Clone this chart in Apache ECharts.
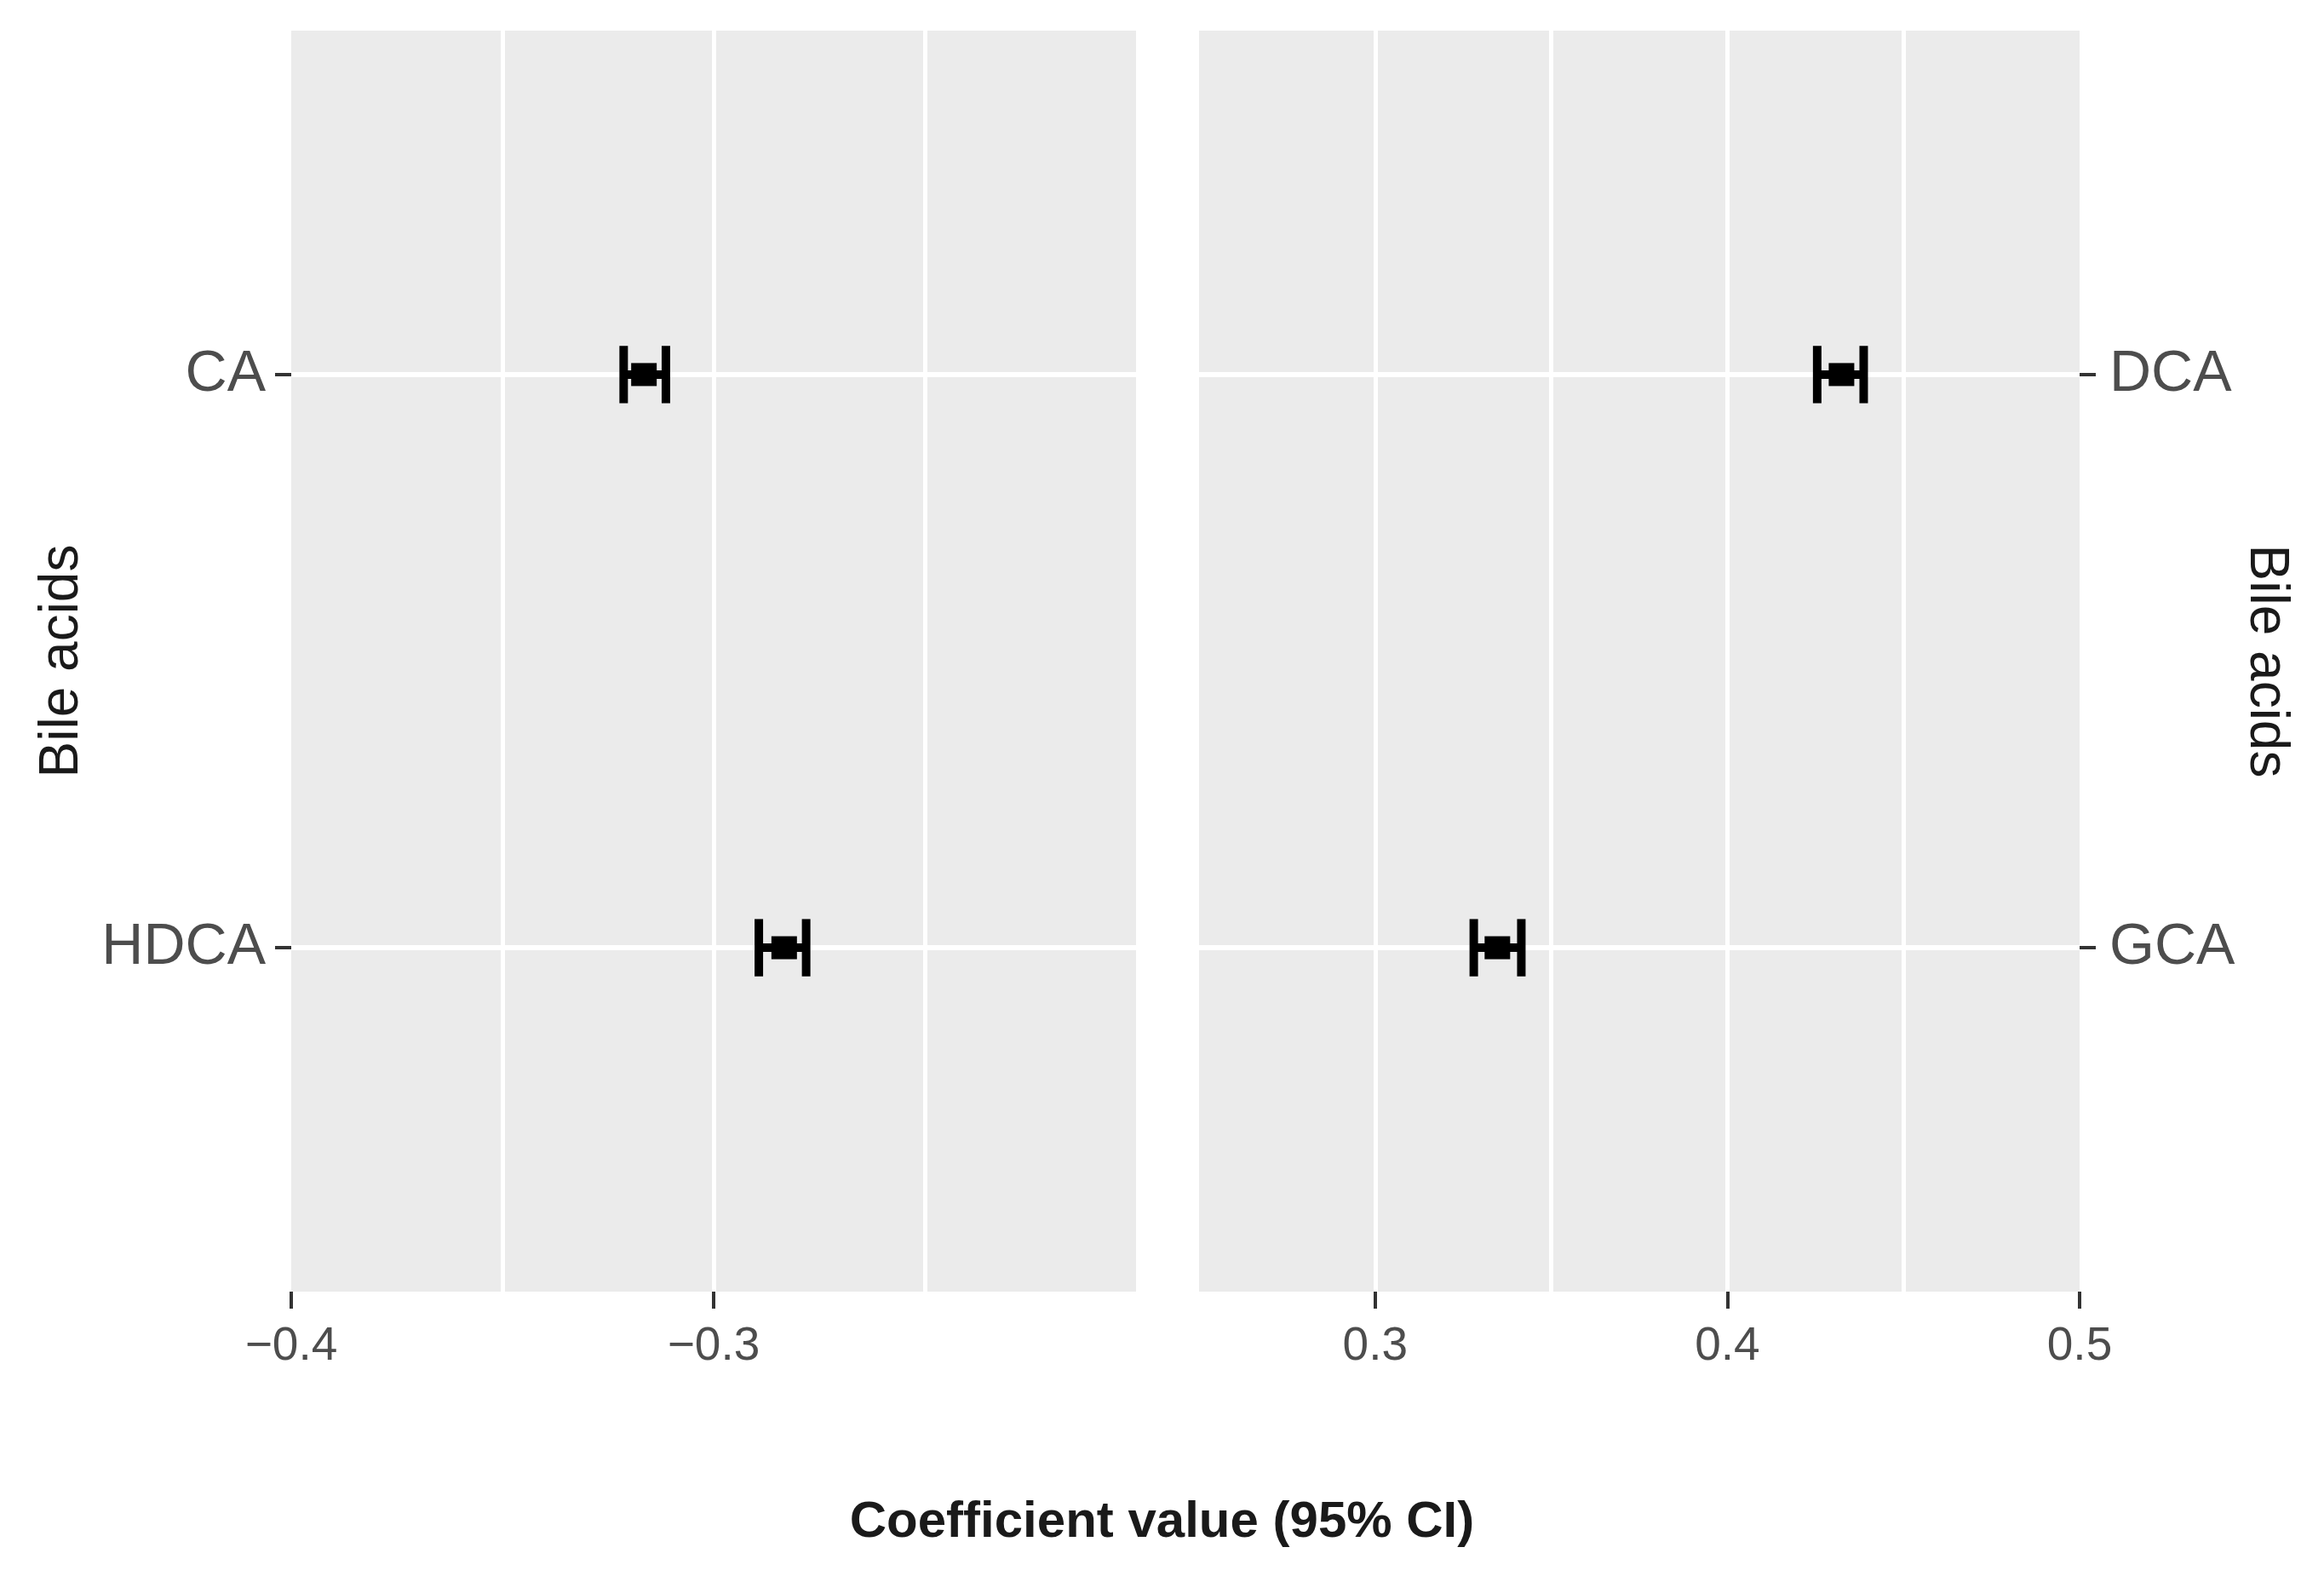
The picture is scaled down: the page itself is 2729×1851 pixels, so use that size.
<!DOCTYPE html>
<html>
<head>
<meta charset="utf-8">
<script src="https://cdn.jsdelivr.net/npm/echarts@6/dist/echarts.min.js"></script>
<style>
html,body{margin:0;padding:0;background:#fff;}
#chart{width:2729px;height:1851px;}
</style>
</head>
<body>
<div id="chart"></div>
<script>
// ---- Data ----
const leftCategories = ['HDCA', 'CA'];
const leftEstimate = [-0.2833, -0.3165];
const leftLower = [-0.2893, -0.3213];
const leftUpper = [-0.2781, -0.3113];

const rightCategories = ['GCA', 'DCA'];
const rightEstimate = [0.3347, 0.4324];
const rightLower = [0.3280, 0.4255];
const rightUpper = [0.3415, 0.4387];

const leftTicks = [-0.4, -0.3];
const rightTicks = [0.3, 0.4, 0.5];
const yAxisTitle = 'Bile acids';
const xAxisTitle = 'Coefficient value (95% CI)';

// ---- Build ----
const FONT = 'Liberation Sans, Arial, sans-serif';
const catPos = [1, 2];
const capHalf = 0.05;

function fmt(v) {
  return (v < 0 ? '\u2212' : '') + Math.abs(v).toFixed(1);
}

function errSeries(gridIdx, lo, hi) {
  return {
    type: 'custom',
    xAxisIndex: gridIdx * 2 + 1,
    yAxisIndex: gridIdx,
    z: 5,
    encode: { x: [1, 2], y: 0 },
    data: catPos.map((p, i) => [p, lo[i], hi[i]]),
    renderItem: function (params, api) {
      const y = api.value(0);
      const a = api.coord([api.value(1), y]);
      const b = api.coord([api.value(2), y]);
      const t = api.coord([api.value(1), y + capHalf])[1];
      const d = api.coord([api.value(1), y - capHalf])[1];
      const st = { stroke: '#000', lineWidth: 10 };
      return {
        type: 'group',
        children: [
          { type: 'line', shape: { x1: a[0], y1: a[1], x2: b[0], y2: b[1] }, style: st },
          { type: 'line', shape: { x1: a[0], y1: t, x2: a[0], y2: d }, style: st },
          { type: 'line', shape: { x1: b[0], y1: t, x2: b[0], y2: d }, style: st }
        ]
      };
    }
  };
}

function pointSeries(gridIdx, est) {
  return {
    type: 'scatter',
    xAxisIndex: gridIdx * 2 + 1,
    yAxisIndex: gridIdx,
    z: 6,
    symbol: 'rect',
    symbolSize: [30, 27],
    itemStyle: { color: '#000', opacity: 1 },
    data: catPos.map((p, i) => [est[i], p])
  };
}

function hGridSeries(gridIdx) {
  return {
    type: 'line',
    xAxisIndex: gridIdx * 2 + 1,
    yAxisIndex: gridIdx,
    z: 1,
    data: [],
    silent: true,
    markLine: {
      silent: true,
      symbol: 'none',
      label: { show: false },
      lineStyle: { color: '#ffffff', width: 6, type: 'solid' },
      data: catPos.map(p => ({ yAxis: p }))
    }
  };
}

function gridAxis(gridIdx, min, max) {
  return {
    type: 'value', gridIndex: gridIdx, position: 'top',
    min: min, max: max, interval: 0.05,
    axisLine: { show: false }, axisTick: { show: false }, axisLabel: { show: false },
    splitLine: { show: true, showMinLine: false, showMaxLine: false, lineStyle: { color: '#ffffff', width: 5 } }
  };
}

function labelAxis(gridIdx, min, max, ticks) {
  return {
    type: 'value', gridIndex: gridIdx, position: 'bottom',
    min: min, max: max,
    axisLine: { show: false },
    axisTick: { show: true, length: 20, customValues: ticks, lineStyle: { color: '#333333', width: 4 } },
    axisLabel: { show: true, customValues: ticks, formatter: fmt, margin: 37,
      fontSize: 55, color: '#4D4D4D', fontFamily: FONT },
    splitLine: { show: false }
  };
}

function yAx(gridIdx, cats, position, rot, gap, margin) {
  return {
    type: 'value', gridIndex: gridIdx, position: position,
    min: 0.4, max: 2.6,
    axisLine: { show: false },
    axisTick: { show: true, length: 19, customValues: catPos, lineStyle: { color: '#333333', width: 4 } },
    axisLabel: { show: true, customValues: catPos, margin: margin,
      formatter: v => cats[Math.round(v) - 1] || '',
      padding: [10, 0, 0, 0],
      fontSize: 68, color: '#4D4D4D', fontFamily: FONT },
    splitLine: { show: false },
    name: yAxisTitle, nameLocation: 'middle', nameRotate: rot, nameGap: gap,
    nameTextStyle: { fontSize: 64, color: '#1A1A1A', fontFamily: FONT }
  };
}

const chart = echarts.init(document.getElementById('chart'), null, { renderer: 'canvas' });
chart.setOption({
  animation: false,
  backgroundColor: '#ffffff',
  title: {
    text: xAxisTitle, left: 'center', top: 1753,
    textStyle: { fontSize: 60, fontWeight: 'bold', color: '#1A1A1A', fontFamily: FONT }
  },
  grid: [
    { left: 342, top: 36, width: 992, height: 1481, show: true, backgroundColor: '#EBEBEB', borderWidth: 0 },
    { left: 1408, top: 36, width: 1034, height: 1481, show: true, backgroundColor: '#EBEBEB', borderWidth: 0 }
  ],
  xAxis: [
    gridAxis(0, -0.4, -0.2),
    labelAxis(0, -0.4, -0.2, leftTicks),
    gridAxis(1, 0.25, 0.5),
    labelAxis(1, 0.25, 0.5, rightTicks)
  ],
  yAxis: [
    yAx(0, leftCategories, 'left', 90, 237, 30),
    yAx(1, rightCategories, 'right', -90, 171, 35)
  ],
  series: [
    hGridSeries(0), hGridSeries(1),
    errSeries(0, leftLower, leftUpper), errSeries(1, rightLower, rightUpper),
    pointSeries(0, leftEstimate), pointSeries(1, rightEstimate)
  ]
});
</script>
</body>
</html>
